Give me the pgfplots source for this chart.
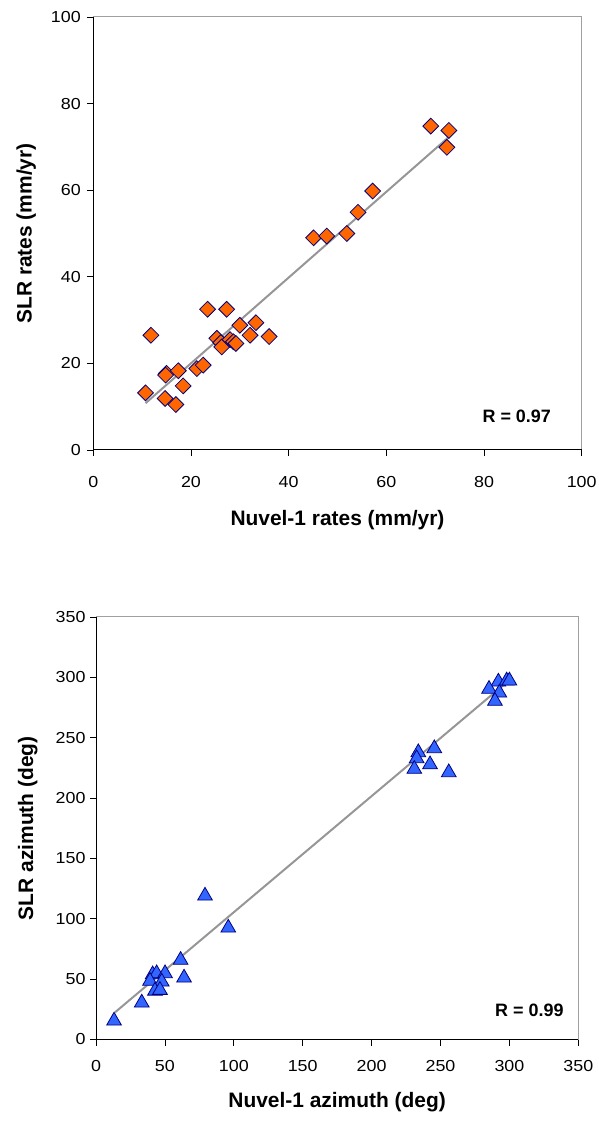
\documentclass[border=0pt]{standalone}
\usepackage{fontspec}
\setmainfont{Liberation Sans}
\newfontfamily\tickfont[FakeStretch=1.12]{Liberation Sans}
\usepackage{pgfplots}
\pgfplotsset{compat=1.18}
\definecolor{orangefill}{HTML}{FF6600}
\definecolor{navyedge}{HTML}{000080}
\definecolor{bluefill}{HTML}{3366FF}
\definecolor{trendgray}{HTML}{969696}
\definecolor{boxgray}{HTML}{A0A0A0}
\pgfplotsset{excel/.style={
  scale only axis, anchor=south west,
  axis line style={boxgray, line width=1bp},
  tick align=outside, xtick pos=bottom, ytick pos=left,
  major tick length=6bp, tick style={black, line width=0.8bp},
  /pgf/number format/assume math mode=true,
  ticklabel style={font=\tickfont\fontsize{16}{16}\selectfont},
  xlabel style={font=\bfseries\fontsize{21}{21}\selectfont, anchor=base},
  ylabel style={font=\bfseries\fontsize{21}{21}\selectfont, anchor=base, rotate=0},
  clip=false,
}}
\begin{document}
\begin{tikzpicture}
\useasboundingbox (0,0) rectangle (599bp,1124bp);
% ---------- top chart ----------
\begin{axis}[excel,
  at={(93.3bp,674bp)}, width=488.4bp, height=433bp,
  xmin=0, xmax=100, ymin=0, ymax=100,
  xtick={0,20,...,100}, ytick={0,20,...,100},
  xticklabel style={yshift=-17bp}, yticklabel style={xshift=-3bp},
  xlabel={Nuvel-1 rates (mm/yr)}, ylabel={SLR rates (mm/yr)},
  xlabel style={at={(axis description cs:0.5,-0.1755)}},
  ylabel style={at={(axis description cs:-0.1261,0.5)}},
]
\addplot[only marks, mark=square*, mark size=5.6bp,
  mark options={rotate=45, fill=orangefill, draw=navyedge, line width=0.8bp}]
coordinates {
(69.1,74.8) (72.8,73.8) (72.4,69.9) (57.2,59.8) (54.2,54.9) (45.1,49.0)
(47.8,49.4) (51.9,50.0) (11.8,26.5) (23.4,32.5) (27.3,32.5) (30.0,28.8)
(33.3,29.4) (25.3,25.8) (26.1,24.8) (26.3,23.8) (28.0,25.5) (28.7,25.0)
(29.2,24.6) (32.1,26.5) (36.0,26.2) (21.2,18.8) (22.5,19.6) (15.0,17.7)
(14.8,17.3) (17.4,18.3) (18.4,14.8) (10.7,13.2) (14.7,11.9) (16.9,10.5)
};
\addplot[trendgray, line width=2bp, no marks] coordinates {(10.7,10.8) (72.8,72.3)};
\draw[black, line width=1bp] (rel axis cs:0,1) -- (rel axis cs:0,0) -- (rel axis cs:1,0);
\node[font=\bfseries\fontsize{18}{18}\selectfont] at (axis cs:86.7,7.7) {R = 0.97};
\end{axis}
% ---------- bottom chart ----------
\begin{axis}[excel,
  at={(96bp,84.5bp)}, width=482.3bp, height=422.5bp,
  xmin=0, xmax=350, ymin=0, ymax=350,
  xtick={0,50,...,350}, ytick={0,50,...,350},
  xticklabel style={yshift=-11bp}, yticklabel style={xshift=-1bp},
  xlabel={Nuvel-1 azimuth (deg)}, ylabel={SLR azimuth (deg)},
  xlabel style={at={(axis description cs:0.5,-0.162)}},
  ylabel style={at={(axis description cs:-0.1306,0.5)}},
]
\addplot[only marks, mark=triangle*, mark size=8.5bp,
  mark options={fill=bluefill, draw=navyedge, line width=0.8bp}]
coordinates {
(292,296.3) (298,297.2) (300,297.2) (285.2,290.3) (292.7,287.2) (289.5,280.4)
(233.9,237.8) (245.5,241.1) (232.7,232.8) (231,224.0) (242.4,227.8) (256,221.2)
(79.1,119.0) (96,92.5) (61.4,65.8) (63.9,51.1) (41.1,53.8) (44,54.7)
(50.1,54.7) (39.2,48.4) (47.7,47.8) (42.8,40.3) (46.4,40.9) (33.2,30.4)
(13.1,15.5)
};
\addplot[trendgray, line width=2bp, no marks] coordinates {(13.8,22.5) (300,297.8)};
\draw[black, line width=1bp] (rel axis cs:0,1) -- (rel axis cs:0,0) -- (rel axis cs:1,0);
\node[font=\bfseries\fontsize{18}{18}\selectfont] at (axis cs:314.5,24.4) {R = 0.99};
\end{axis}
\end{tikzpicture}
\end{document}
